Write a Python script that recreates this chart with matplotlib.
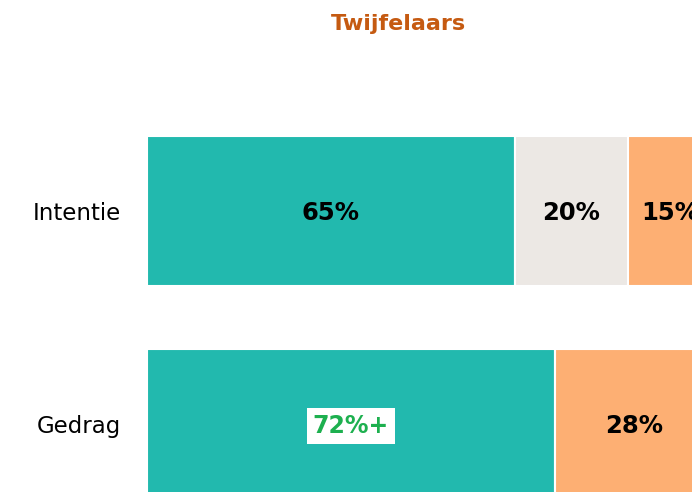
import matplotlib
matplotlib.use("Agg")
import matplotlib.pyplot as plt

# data
categories = ["Intentie", "Gedrag"]
segments_intentie = [65, 20, 15]
segments_gedrag = [72, 28]
colors_intentie = ["#22B9AE", "#ECE8E4", "#FDAF73"]
colors_gedrag = ["#22B9AE", "#FDAF73"]
labels_intentie = ["65%", "20%", "15%"]
labels_gedrag = ["72%+", "28%"]
title = "Twijfelaars"

plt.rcParams["font.family"] = ["DejaVu Sans"]

fig = plt.figure(figsize=(6.92, 4.92), dpi=100)
# axes deliberately run past the right edge of the figure (bars are cut off)
ax = fig.add_axes([147 / 692, 0, 566 / 692, 1])

bar_h = 150 / 213

rows = [(segments_intentie, colors_intentie, labels_intentie),
        (segments_gedrag, colors_gedrag, labels_gedrag)]

for i, (vals, cols, labs) in enumerate(rows):
    left = 0
    for v, c, lab in zip(vals, cols, labs):
        ax.barh(i, v, left=left, height=bar_h, color=c, edgecolor="white", linewidth=1.5)
        if lab.endswith("+"):
            ax.text(left + v / 2, i + 0.01, lab, ha="center", va="center", fontsize=17,
                    fontweight="bold", color="#1DB04F",
                    bbox=dict(boxstyle="square,pad=0.25", fc="white", ec="none"))
        else:
            ax.text(left + v / 2, i + 0.01, lab, ha="center", va="center", fontsize=17.5,
                    fontweight="bold", color="black")
        left += v

ax.set_xlim(0, 100)
ax.set_ylim((492 - 211) / 213, -211 / 213)
ax.set_yticks(range(len(categories)))
ax.set_yticklabels(categories, fontsize=16.5)
ax.tick_params(axis="y", length=0, pad=19)
ax.set_xticks([])
for s in ax.spines.values():
    s.set_visible(False)

fig.text(398 / 692, 1 - 24 / 492, title, ha="center", va="center", fontsize=16,
         fontweight="bold", color="#C55A11")

fig.savefig("out.png", dpi=100)
